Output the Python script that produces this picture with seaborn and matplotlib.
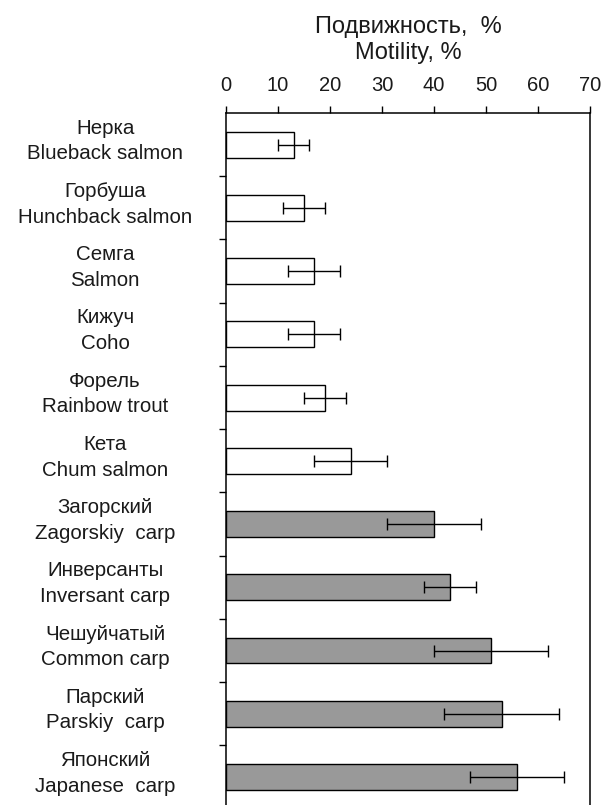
"""
Horizontal bar chart of sperm motility (%) for salmonid and carp fish, with error bars.
"""
import matplotlib
matplotlib.use("Agg")
import matplotlib.pyplot as plt
import matplotlib.transforms as mtrans
import numpy as np
import pandas as pd
import seaborn as sns

# Data
names_ru = ["Нерка", "Горбуша", "Семга", "Кижуч", "Форель", "Кета",
            "Загорский", "Инверсанты", "Чешуйчатый", "Парский", "Японский"]
names_en = ["Blueback salmon", "Hunchback salmon", "Salmon", "Coho", "Rainbow trout",
            "Chum salmon", "Zagorskiy  carp", "Inversant carp", "Common carp",
            "Parskiy  carp", "Japanese  carp"]
motility = [13, 15, 17, 17, 19, 24, 40, 43, 51, 53, 56]
errors = [3, 4, 5, 5, 4, 7, 9, 5, 11, 11, 9]
groups = ["salmon"] * 6 + ["carp"] * 5

labels = [ru + "\n" + en for ru, en in zip(names_ru, names_en)]
df = pd.DataFrame({"label": labels, "motility": motility, "err": errors, "group": groups})

sns.set_style("white")
plt.rcParams["font.family"] = ["Liberation Sans", "DejaVu Sans"]
text_col = "#1a1a1a"

fig = plt.figure(figsize=(6.01, 8.05), dpi=100)
ax = fig.add_axes([226 / 601, -3.6 / 805, 364 / 601, 695.6 / 805])

sns.barplot(data=df, x="motility", y="label", hue="group", orient="h",
            palette={"salmon": "white", "carp": "#999999"}, dodge=False,
            width=0.41, edgecolor="black", linewidth=1.0, legend=False, ax=ax)

ax.errorbar(df["motility"], np.arange(len(df)), xerr=df["err"], fmt="none",
            ecolor="black", elinewidth=1.0, capsize=4, capthick=1.0)

ax.set_xlim(0, 70)
ax.set_ylim(len(df) - 0.5, -0.5)
ax.set_xticks(np.arange(0, 71, 10))
ax.xaxis.tick_top()
ax.xaxis.set_label_position("top")
ax.tick_params(axis="x", direction="out", length=5, width=1, pad=8,
               labelsize=14.5, colors="black", labelcolor=text_col)
ax.set_xlabel("Подвижность,  %\nMotility, %", fontsize=17, color=text_col,
              labelpad=12, linespacing=1.25)

# category labels centred to the left, small ticks between categories
ax.set_yticks(np.arange(len(df)))
ax.set_yticklabels(labels)
ax.set_yticks(np.arange(0.5, len(df) - 1, 1), minor=True)
ax.tick_params(axis="y", which="major", length=0, pad=87, labelsize=14.8,
               labelcolor=text_col)
ax.tick_params(axis="y", which="minor", direction="out", length=5, width=1,
               left=True, color="black")
shift = mtrans.ScaledTranslation(0, 9 / 100, fig.dpi_scale_trans)
for t in ax.get_yticklabels():
    t.set_ha("center")
    t.set_multialignment("center")
    t.set_linespacing(1.45)
    t.set_transform(t.get_transform() + shift)
ax.set_ylabel("")

for side in ["top", "left", "right"]:
    ax.spines[side].set_visible(True)
    ax.spines[side].set_color("black")
    ax.spines[side].set_linewidth(1.1)
ax.spines["bottom"].set_visible(False)

fig.savefig("out.png", dpi=100)
